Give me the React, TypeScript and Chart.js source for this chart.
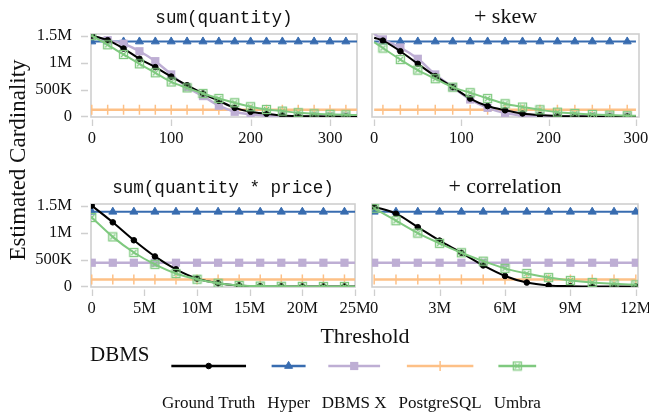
import React, { useEffect, useRef } from "react";
import { Chart, registerables } from "chart.js";
import { drawPoint } from "chart.js/helpers";
Chart.register(...registerables);

// ---------------- data (values in millions) ----------------
const SERIES_NAMES = ["Ground Truth", "Hyper", "DBMS X", "PostgreSQL", "Umbra"];
const SERIES_COLORS = ["#000000", "#386cb0", "#beaed4", "#fdc086", "#7fc97f"];

const Y_TICKS = [0, 0.5, 1, 1.5];
const Y_TICK_LABELS = ["0", "500K", "1M", "1.5M"];

// Panel A: sum(quantity)
const A_TITLE = "sum(quantity)";
const A_X = [0, 20, 40, 60, 80, 100, 120, 140, 160, 180, 200, 220, 240, 260, 280, 300, 320, 334];
const A_MARK = [1, 1, 1, 1, 1, 1, 1, 1, 1, 1, 1, 1, 1, 1, 1, 1, 1, 0];
const A_GT = [1.5, 1.415, 1.26, 1.07, 0.915, 0.74, 0.58, 0.426, 0.29, 0.16, 0.087, 0.05, 0.02, 0.008, 0.003, 0.001, 0, 0];
const A_HYPER = [1.39, 1.39, 1.39, 1.39, 1.39, 1.39, 1.39, 1.39, 1.39, 1.39, 1.39, 1.39, 1.39, 1.39, 1.39, 1.39, 1.39, 1.39];
const A_DBMSX = [1.5, 1.415, 1.35, 1.21, 1.026, 0.78, 0.544, 0.378, 0.2, 0.087, 0.04, 0.015, 0.005, 0.001, 0, 0, 0, 0];
const A_PG = [0.125, 0.125, 0.125, 0.125, 0.125, 0.125, 0.125, 0.125, 0.125, 0.125, 0.125, 0.125, 0.125, 0.125, 0.125, 0.125, 0.125, 0.125];
const A_UMBRA = [1.5, 1.33, 1.15, 0.976, 0.81, 0.64, 0.53, 0.426, 0.333, 0.254, 0.18, 0.13, 0.1, 0.07, 0.05, 0.04, 0.03, 0.025];
const A_X_TICKS = [0, 100, 200, 300];
const A_X_LABELS = ["0", "100", "200", "300"];

// Panel B: + skew
const B_TITLE = "+ skew";
const B_X = [0, 10, 30, 50, 70, 90, 110, 130, 150, 170, 190, 210, 230, 250, 270, 290, 300];
const B_MARK = [0, 1, 1, 1, 1, 1, 1, 1, 1, 1, 1, 1, 1, 1, 1, 1, 0];
const B_GT = [1.46, 1.407, 1.21, 0.976, 0.748, 0.544, 0.333, 0.193, 0.115, 0.055, 0.025, 0.01, 0.004, 0.001, 0, 0, 0];
const B_HYPER = [1.39, 1.39, 1.39, 1.39, 1.39, 1.39, 1.39, 1.39, 1.39, 1.39, 1.39, 1.39, 1.39, 1.39, 1.39, 1.39, 1.39];
const B_DBMSX = [1.53, 1.43, 1.28, 1.07, 0.78, 0.544, 0.315, 0.16, 0.065, 0.02, 0.005, 0, 0, 0, 0, 0, 0];
const B_PG = [0.125, 0.125, 0.125, 0.125, 0.125, 0.125, 0.125, 0.125, 0.125, 0.125, 0.125, 0.125, 0.125, 0.125, 0.125, 0.125, 0.125];
const B_UMBRA = [1.38, 1.27, 1.056, 0.86, 0.7, 0.544, 0.44, 0.333, 0.235, 0.175, 0.124, 0.08, 0.055, 0.037, 0.025, 0.015, 0.012];
const B_X_TICKS = [0, 100, 200, 300];
const B_X_LABELS = ["0", "100", "200", "300"];

// Panel C: sum(quantity * price)
const C_TITLE = "sum(quantity * price)";
const C_X = [0, 2, 4, 6, 8, 10, 12, 14, 16, 18, 20, 22, 24, 25];
const C_MARK = [1, 1, 1, 1, 1, 1, 1, 1, 1, 1, 1, 1, 1, 0];
const C_GT = [1.5, 1.19, 0.857, 0.557, 0.318, 0.147, 0.06, 0.02, 0.005, 0.001, 0, 0, 0, 0];
const C_HYPER = [1.385, 1.385, 1.385, 1.385, 1.385, 1.385, 1.385, 1.385, 1.385, 1.385, 1.385, 1.385, 1.385, 1.385];
const C_DBMSX = [0.44, 0.44, 0.44, 0.44, 0.44, 0.44, 0.44, 0.44, 0.44, 0.44, 0.44, 0.44, 0.44, 0.44];
const C_PG = [0.13, 0.13, 0.13, 0.13, 0.13, 0.13, 0.13, 0.13, 0.13, 0.13, 0.13, 0.13, 0.13, 0.13];
const C_UMBRA = [1.28, 0.92, 0.63, 0.41, 0.24, 0.134, 0.06, 0.02, 0.008, 0.003, 0.001, 0, 0, 0];
const C_X_TICKS = [0, 5, 10, 15, 20, 25];
const C_X_LABELS = ["0", "5M", "10M", "15M", "20M", "25M"];

// Panel D: + correlation
const D_TITLE = "+ correlation";
const D_X = [0, 1, 2, 3, 4, 5, 6, 7, 8, 9, 10, 11, 12];
const D_MARK = [1, 1, 1, 1, 1, 1, 1, 1, 1, 1, 1, 1, 1];
const D_GT = [1.48, 1.35, 1.1, 0.85, 0.625, 0.39, 0.195, 0.073, 0.02, 0.005, 0.001, 0, 0];
const D_HYPER = [1.385, 1.385, 1.385, 1.385, 1.385, 1.385, 1.385, 1.385, 1.385, 1.385, 1.385, 1.385, 1.385];
const D_DBMSX = [0.44, 0.44, 0.44, 0.44, 0.44, 0.44, 0.44, 0.44, 0.44, 0.44, 0.44, 0.44, 0.44];
const D_PG = [0.13, 0.13, 0.13, 0.13, 0.13, 0.13, 0.13, 0.13, 0.13, 0.13, 0.13, 0.13, 0.13];
const D_UMBRA = [1.45, 1.22, 0.99, 0.8, 0.625, 0.47, 0.336, 0.24, 0.165, 0.11, 0.073, 0.05, 0.03];
const D_X_TICKS = [0, 3, 6, 9, 12];
const D_X_LABELS = ["0", "3M", "6M", "9M", "12M"];

const Y_LABEL = "Estimated Cardinality";
const X_LABEL = "Threshold";
const LEGEND_TITLE = "DBMS";

// ---------------- styles ----------------
const SERIF = '"Liberation Serif", "DejaVu Serif", serif';
const MONO = '"Liberation Mono", "DejaVu Sans Mono", monospace';
const TEXT_COLOR = "#111111";
const FRAME_COLOR = "#cfcfcf";
const LINE_W = [2, 2, 2.5, 2.5, 2];
const POINT_STYLE: any[] = ["circle", "triangle", "rect", "line", "umbra"];
const POINT_R = [2.8, 4.6, 5.8, 5, 5];
const POINT_ROT = [0, 0, 0, 90, 0];
const POINT_BW = [1, 1, 0, 1.5, 1];
const DRAW_ORDER = [1, 3, 2, 4, 0];

let umbraMarkerCache: HTMLCanvasElement | null = null;
function umbraMarker(): HTMLCanvasElement {
  if (umbraMarkerCache) return umbraMarkerCache;
  const c = document.createElement("canvas");
  c.width = 11;
  c.height = 11;
  const g = c.getContext("2d")!;
  g.strokeStyle = SERIES_COLORS[4];
  g.lineWidth = 1.3;
  g.strokeRect(1.5, 1.5, 8, 8);
  g.beginPath();
  g.moveTo(3, 3);
  g.lineTo(8, 8);
  g.moveTo(8, 3);
  g.lineTo(3, 8);
  g.stroke();
  umbraMarkerCache = c;
  return c;
}

function styleFor(s: number) {
  return POINT_STYLE[s] === "umbra" ? umbraMarker() : POINT_STYLE[s];
}

type PanelDef = {
  title: string;
  mono: boolean;
  xs: number[];
  mask: number[];
  series: number[][];
  xMin: number;
  xMax: number;
  xTicks: number[];
  xLabels: string[];
  left: number;
  top: number;
  width: number;
  padL: number;
  padR: number;
  showY: boolean;
};

const PANELS: PanelDef[] = [
  { title: A_TITLE, mono: true, xs: A_X, mask: A_MARK, series: [A_GT, A_HYPER, A_DBMSX, A_PG, A_UMBRA], xMin: -1, xMax: 334, xTicks: A_X_TICKS, xLabels: A_X_LABELS, left: 0, top: 0, width: 380, padL: 0, padR: 23, showY: true },
  { title: B_TITLE, mono: false, xs: B_X, mask: B_MARK, series: [B_GT, B_HYPER, B_DBMSX, B_PG, B_UMBRA], xMin: -2.5, xMax: 303.5, xTicks: B_X_TICKS, xLabels: B_X_LABELS, left: 355, top: 0, width: 294, padL: 17, padR: 10, showY: false },
  { title: C_TITLE, mono: true, xs: C_X, mask: C_MARK, series: [C_GT, C_HYPER, C_DBMSX, C_PG, C_UMBRA], xMin: -0.07, xMax: 25, xTicks: C_X_TICKS, xLabels: C_X_LABELS, left: 0, top: 170, width: 380, padL: 0, padR: 25, showY: true },
  { title: D_TITLE, mono: false, xs: D_X, mask: D_MARK, series: [D_GT, D_HYPER, D_DBMSX, D_PG, D_UMBRA], xMin: -0.1, xMax: 12.1, xTicks: D_X_TICKS, xLabels: D_X_LABELS, left: 355, top: 170, width: 294, padL: 17, padR: 11, showY: false },
];

const PANEL_H = 160;
const PLOT_TOP = 34;
const X_AXIS_H = 43;
const Y_AXIS_W = 91;

function PanelChart({ p }: { p: PanelDef }) {
  const ref = useRef<HTMLCanvasElement>(null);
  useEffect(() => {
    const canvas = ref.current!;
    const datasets = p.series.map((ys, s) => ({
      label: SERIES_NAMES[s],
      data: p.xs.map((x, i) => ({ x, y: ys[i] })),
      borderColor: SERIES_COLORS[s],
      backgroundColor: SERIES_COLORS[s],
      borderWidth: LINE_W[s],
      cubicInterpolationMode: "monotone" as const,
      pointStyle: styleFor(s),
      rotation: POINT_ROT[s],
      pointRadius: (ctx: any) => (p.mask[ctx.dataIndex] ? POINT_R[s] : 0),
      pointBorderWidth: POINT_BW[s],
      pointBackgroundColor: SERIES_COLORS[s],
      pointBorderColor: SERIES_COLORS[s],
      order: DRAW_ORDER[s],
    }));

    const decor = {
      id: "decor",
      beforeDatasetsDraw(chart: any) {
        const a = chart.chartArea;
        const ctx = chart.ctx;
        ctx.save();
        ctx.strokeStyle = FRAME_COLOR;
        ctx.lineWidth = 1.6;
        ctx.strokeRect(a.left, a.top, a.right - a.left, a.bottom - a.top);
        ctx.restore();
      },
      afterDraw(chart: any) {
        const a = chart.chartArea;
        const ctx = chart.ctx;
        ctx.save();
        ctx.strokeStyle = FRAME_COLOR;
        ctx.lineWidth = 1.3;
        const xs = chart.scales.x;
        ctx.beginPath();
        for (const t of xs.ticks) {
          const px = Math.round(xs.getPixelForValue(t.value)) + 0.5;
          ctx.moveTo(px, a.bottom + 2.5);
          ctx.lineTo(px, a.bottom + 9);
        }
        if (p.showY) {
          const ys = chart.scales.y;
          for (const t of ys.ticks) {
            const py = Math.round(ys.getPixelForValue(t.value)) + 0.5;
            ctx.moveTo(a.left - 10, py);
            ctx.lineTo(a.left - 3, py);
          }
        }
        ctx.stroke();
        ctx.fillStyle = TEXT_COLOR;
        ctx.font = p.mono ? `17.6px ${MONO}` : `22px ${SERIF}`;
        ctx.textAlign = "center";
        ctx.textBaseline = "alphabetic";
        ctx.fillText(p.title, (a.left + a.right) / 2, 23);
        ctx.restore();
      },
    };

    const chart = new Chart(canvas, {
      type: "line",
      data: { datasets: datasets as any },
      options: {
        animation: false,
        responsive: false,
        maintainAspectRatio: false,
        events: [],
        layout: { padding: { left: p.padL, right: p.padR, top: PLOT_TOP, bottom: 0 } },
        plugins: { legend: { display: false }, tooltip: { enabled: false }, title: { display: false } },
        scales: {
          x: {
            type: "linear",
            min: p.xMin,
            max: p.xMax,
            grid: { display: false, drawTicks: false },
            border: { display: false },
            ticks: {
              autoSkip: false,
              maxRotation: 0,
              padding: 12,
              color: TEXT_COLOR,
              font: { family: SERIF, size: 16.5 },
              callback: (_v: any, i: number) => p.xLabels[i],
            },
            afterBuildTicks: (s: any) => {
              s.ticks = p.xTicks.map((v) => ({ value: v }));
            },
            afterFit: (s: any) => {
              s.height = X_AXIS_H;
              s.paddingLeft = 0;
              s.paddingRight = 0;
            },
          },
          y: {
            type: "linear",
            display: p.showY,
            min: -0.01,
            max: 1.53,
            grid: { display: false, drawTicks: false },
            border: { display: false },
            ticks: {
              autoSkip: false,
              padding: 19,
              color: TEXT_COLOR,
              font: { family: SERIF, size: 16.5 },
              callback: (_v: any, i: number) => Y_TICK_LABELS[i],
            },
            afterBuildTicks: (s: any) => {
              s.ticks = Y_TICKS.map((v) => ({ value: v }));
            },
            afterFit: (s: any) => {
              s.width = p.showY ? Y_AXIS_W : 0;
              s.paddingTop = 0;
              s.paddingBottom = 0;
            },
          },
        },
      } as any,
      plugins: [decor],
    });
    return () => chart.destroy();
  }, []);
  return (
    <canvas
      ref={ref}
      width={p.width}
      height={PANEL_H}
      style={{ position: "absolute", left: p.left, top: p.top, width: p.width, height: PANEL_H }}
    />
  );
}

function Annotations() {
  const ref = useRef<HTMLCanvasElement>(null);
  useEffect(() => {
    const ctx = ref.current!.getContext("2d")!;
    ctx.clearRect(0, 0, 649, 415);
    ctx.fillStyle = TEXT_COLOR;
    // y label
    ctx.save();
    ctx.font = `23px ${SERIF}`;
    ctx.translate(24.5, 160);
    ctx.rotate(-Math.PI / 2);
    ctx.textAlign = "center";
    ctx.textBaseline = "alphabetic";
    ctx.fillText(Y_LABEL, 0, 0);
    ctx.restore();
    // x label
    ctx.font = `22px ${SERIF}`;
    ctx.textAlign = "center";
    ctx.textBaseline = "alphabetic";
    ctx.fillText(X_LABEL, 365, 343);
    // legend title
    ctx.font = `21px ${SERIF}`;
    ctx.textAlign = "left";
    ctx.fillText(LEGEND_TITLE, 90, 361);
    // legend entries
    ctx.font = `17px ${SERIF}`;
    let x = 162;
    const lineY = 366;
    SERIES_NAMES.forEach((name, s) => {
      const w = ctx.measureText(name).width;
      const cx = x + w / 2;
      const half = w * 0.4;
      ctx.save();
      ctx.strokeStyle = SERIES_COLORS[s];
      ctx.lineWidth = 2.3;
      ctx.beginPath();
      ctx.moveTo(cx - half, lineY);
      ctx.lineTo(cx + half, lineY);
      ctx.stroke();
      ctx.fillStyle = SERIES_COLORS[s];
      ctx.strokeStyle = SERIES_COLORS[s];
      ctx.lineWidth = POINT_BW[s];
      drawPoint(ctx, { pointStyle: styleFor(s), radius: POINT_R[s], rotation: POINT_ROT[s], borderWidth: POINT_BW[s] } as any, cx, lineY);
      ctx.restore();
      ctx.fillStyle = TEXT_COLOR;
      ctx.textAlign = "center";
      ctx.fillText(name, cx, 408);
      x += w + 12;
    });
  }, []);
  return (
    <canvas
      ref={ref}
      width={649}
      height={415}
      style={{ position: "absolute", left: 0, top: 0, width: 649, height: 415 }}
    />
  );
}

export default function App() {
  return (
    <div style={{ position: "absolute", left: 0, top: 0, width: 649, height: 415, background: "#ffffff", overflow: "hidden" }}>
      <Annotations />
      {PANELS.map((p, i) => (
        <PanelChart key={i} p={p} />
      ))}
    </div>
  );
}
